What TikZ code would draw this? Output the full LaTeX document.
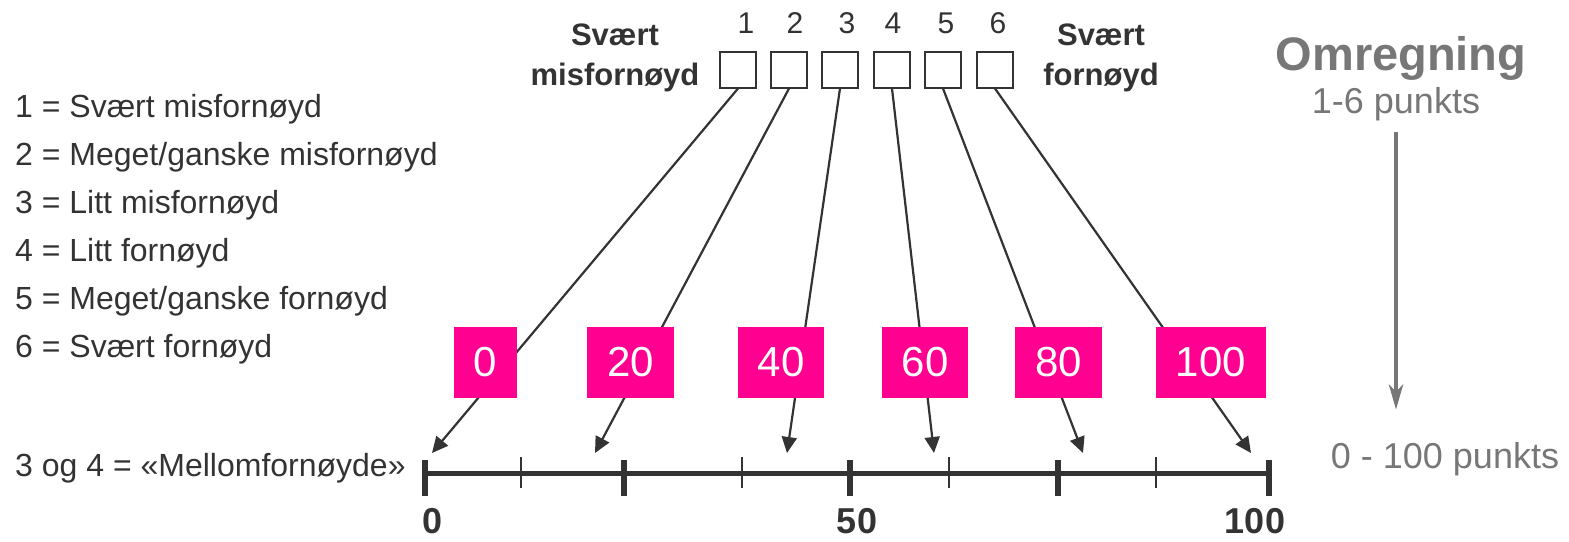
\documentclass[tikz,border=0pt]{standalone}
\usepackage{fontspec}
\setmainfont{Liberation Sans}
\usetikzlibrary{arrows.meta}
\definecolor{ink}{HTML}{333333}
\definecolor{pinkbox}{HTML}{FF0090}
\definecolor{greytxt}{HTML}{777777}
\newcommand{\fsz}[1]{\fontsize{#1}{#1}\selectfont}

\begin{document}
\begin{tikzpicture}[
        x=1pt, y=-1pt,
        txt/.style={inner sep=0pt, text=ink},
        chk/.style={draw=ink, line width=2pt, minimum size=36pt, inner sep=0pt},
        val/.style={fill=pinkbox, text=white, minimum height=71pt, inner xsep=20pt, inner ysep=0pt, font=\fsz{42}},
        conn/.style={draw=ink, line width=2.2pt, -{Triangle[length=16pt,width=15pt]}},
        grey/.style={inner sep=0pt, text=greytxt}
    ]
    \useasboundingbox (0,0) rectangle (1569,541);

    % legend
    \foreach \s [count=\k from 0] in {1 = Svært misfornøyd, 2 = Meget/ganske misfornøyd, 3 = Litt misfornøyd,
            4 = Litt fornøyd, 5 = Meget/ganske fornøyd, 6 = Svært fornøyd} {
        \node[txt, anchor=base west, font=\fsz{32}] (leg\k) at (15,117+48*\k) {\s};
    }
    \node[txt, anchor=base west, font=\fsz{32}] (mid) at (15,476) {3 og 4 = «Mellomfornøyde»};

    % scale 1-6
    \node[txt, anchor=base, font=\fsz{31}\bfseries] (lo1) at (615,45) {Svært};
    \node[txt, anchor=base, font=\fsz{31}\bfseries] (lo2) at (615,85) {misfornøyd};
    \node[txt, anchor=base, font=\fsz{31}\bfseries] (hi1) at (1101,45) {Svært};
    \node[txt, anchor=base, font=\fsz{31}\bfseries] (hi2) at (1101,85) {fornøyd};
    \foreach \i/\x/\nx in {1/738/746, 2/789/795, 3/840/847, 4/892/893, 5/943/946, 6/995/998} {
        \node[chk] (c\i) at (\x,69.5) {};
        \node[txt, anchor=base, font=\fsz{30}] (n\i) at (\nx,33) {\i};
    }

    % axis 0-100
    \draw[ink, line width=5pt] (425,473) -- (1269,473);
    \foreach \x in {425,624,850,1058,1269}
        \draw[ink, line width=5.5pt] (\x,460) -- (\x,496);
    \foreach \x in {521,742,949,1156}
        \draw[ink, line width=2.5pt] (\x,457) -- (\x,488);
    \node[txt, anchor=base, font=\fsz{36}\bfseries] (ax0) at (433,533) {0};
    \node[txt, anchor=base, font=\fsz{36}\bfseries] (ax50) at (857,533) {50};
    \node[txt, anchor=base, font=\fsz{36}\bfseries] (ax100) at (1255,533) {100};

    \foreach \i/\x in {1/432, 2/595, 3/787, 4/934, 5/1083, 6/1251}
        \coordinate (t\i) at (\x,453);
    \foreach \i in {1,...,6}
        \draw[conn] (c\i.south) -- (t\i);
    \foreach \i/\x/\v in {1/485.5/0, 2/630.5/20, 3/781/40, 4/925/60, 5/1058.5/80, 6/1211/100}
        \node[val] (v\i) at (\x,362.5) {\v};

    % omregning
    \node[grey, anchor=base, font=\fsz{47}\bfseries] (om) at (1401,70) {Omregning};
    \node[grey, anchor=base, font=\fsz{36}] (p1) at (1396,113) {1-6 punkts};
    \node[grey, anchor=base, font=\fsz{36}] (p2) at (1445,468) {0 - 100 punkts};
    \draw[greytxt, line width=4.5pt, shorten <=11pt, shorten >=32pt,
        -{Stealth[length=25pt,width=14pt,inset=7pt]}] (p1.south) -- (p1.south |- p2.north);
\end{tikzpicture}
\end{document}
